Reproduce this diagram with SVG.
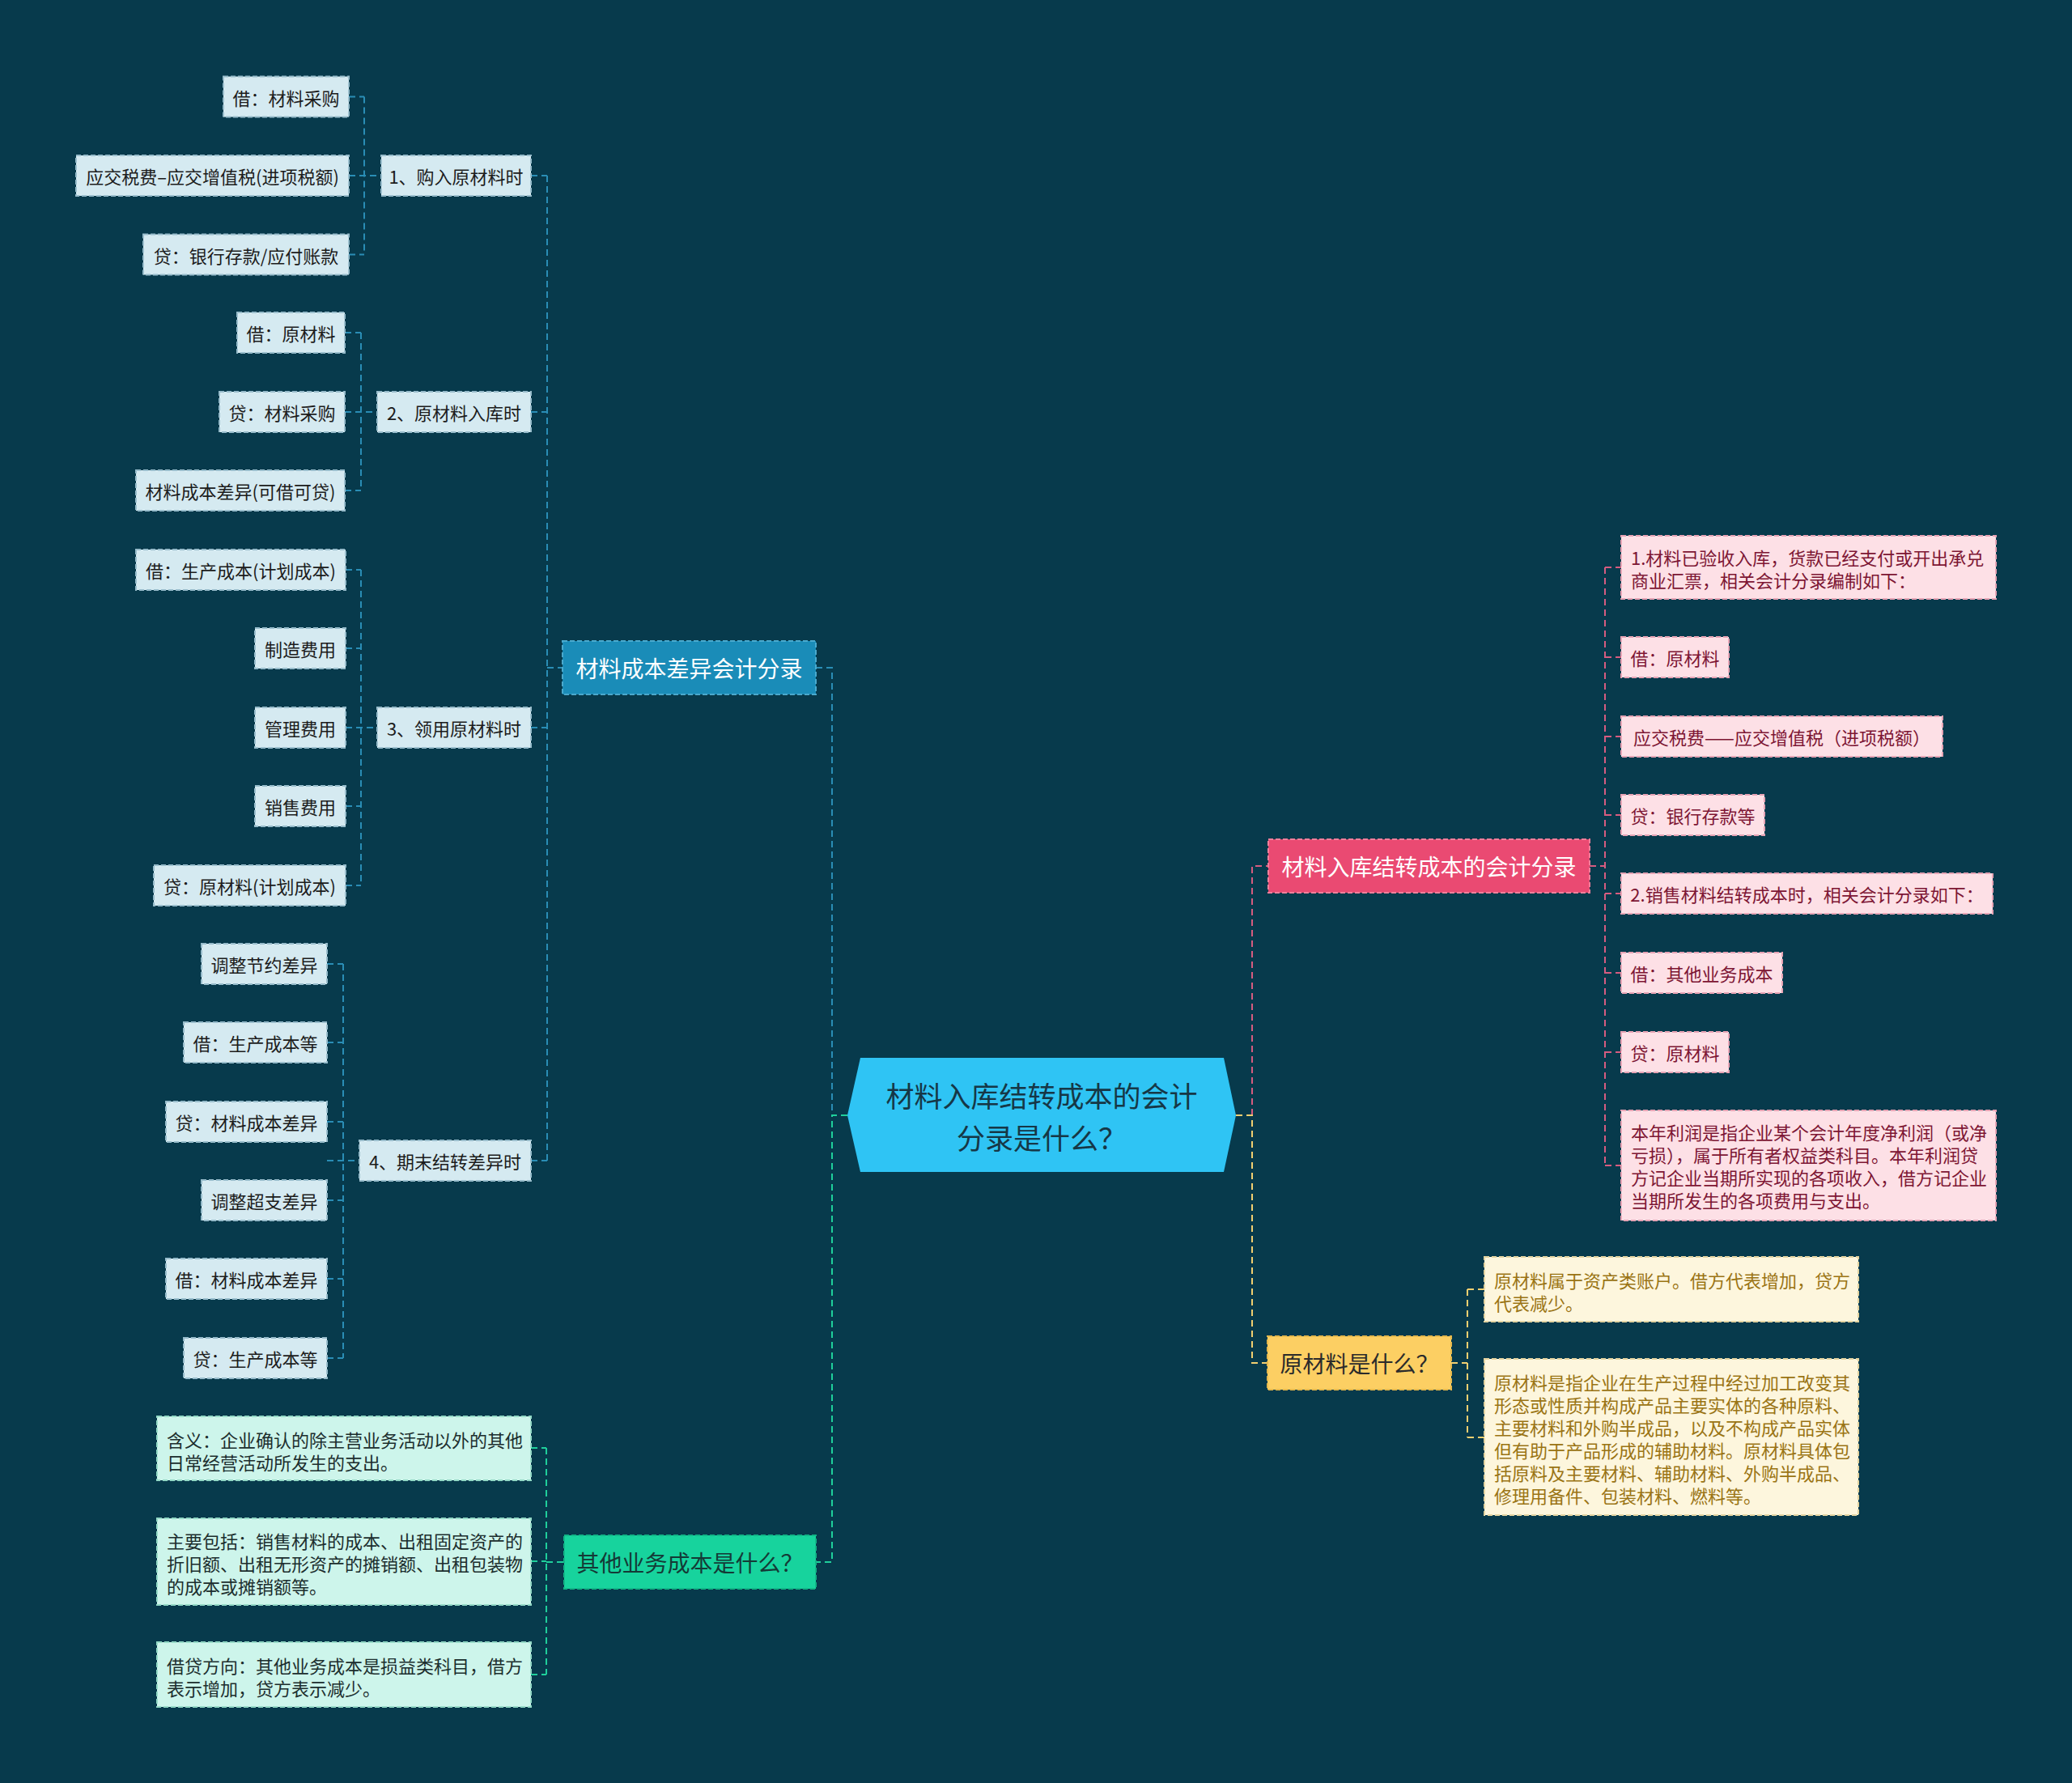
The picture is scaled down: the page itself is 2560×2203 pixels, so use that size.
<svg xmlns="http://www.w3.org/2000/svg" width="2560" height="2203" viewBox="0 0 2560 2203">
<style>
text{font-family:"Noto Sans CJK SC","Noto Sans",sans-serif;dominant-baseline:central}
.bg{fill:#073a4c}
.lb rect{fill:#d5eaf1;stroke:#97bccb;stroke-width:2;stroke-dasharray:6 3}
.lb text{fill:#1c1c1c;font-size:22px}
.lp rect{fill:#fde0e6;stroke:#e6a3b4;stroke-width:2;stroke-dasharray:6 3}
.lp text{fill:#7d1634;font-size:22px}
.ly rect{fill:#fdf6dd;stroke:#e3d3a0;stroke-width:2;stroke-dasharray:6 3}
.ly text{fill:#9a7414;font-size:22px}
.lg rect{fill:#cdf5eb;stroke:#93d9c6;stroke-width:2;stroke-dasharray:6 3}
.lg text{fill:#1c2e2e;font-size:22px}
.n2 text{font-size:28px}
.n2b rect{fill:#1a8cb8;stroke:#4aa9cd;stroke-width:2;stroke-dasharray:6 3}
.n2b text{fill:#ffffff}
.n2p rect{fill:#ea4a72;stroke:#f07f9b;stroke-width:2;stroke-dasharray:6 3}
.n2p text{fill:#ffffff}
.n2y rect{fill:#fccf63;stroke:#e5b84c;stroke-width:2;stroke-dasharray:6 3}
.n2y text{fill:#2b2b2b}
.n2g rect{fill:#17d39d;stroke:#11b586;stroke-width:2;stroke-dasharray:6 3}
.n2g text{fill:#143a36}
.c{fill:none;stroke-width:2;stroke-dasharray:8 5}
.cb{stroke:#2a8db5}
.cp{stroke:#d65c80}
.cy{stroke:#f1cf70}
.cg{stroke:#1fcf9b}
.m text{text-anchor:middle}
</style>
<rect class="bg" x="0" y="0" width="2560" height="2203"/>

<g id="connectors">
  <!-- blue branch -->
  <path class="c cb" d="M431 119.5H450M431 217H471M431 314.5H450M450 119.5V314.5"/>
  <path class="c cb" d="M426 411H446M426 509H466M426 606H446M446 411V606"/>
  <path class="c cb" d="M427 704H446M427 801H446M427 899H466M427 996H446M427 1094H446M446 704V1094"/>
  <path class="c cb" d="M404 1191H424M404 1288H424M404 1386H424M404 1434H444M404 1483H424M404 1580H424M404 1678H424M424 1191V1678"/>
  <path class="c cb" d="M656 217H676M656 509H676M656 899H676M656 1434H676M676 825H695M676 217V1434"/>
  <path class="c cb" d="M1008 825H1028V1378"/>
  <!-- green branch -->
  <path class="c cg" d="M1047 1378H1028V1930H1008"/>
  <path class="c cg" d="M656 1789H675M656 1929H675M656 2069H675M675 1930H697M675 1789V2069"/>
  <!-- pink branch -->
  <path class="c cp" d="M1547 1378V1070H1567"/>
  <path class="c cp" d="M1964 1070H1983M1983 701V1440M1983 701H2003M1983 812H2003M1983 910H2003M1983 1007H2003M1983 1104H2003M1983 1202H2003M1983 1300H2003M1983 1440H2003"/>
  <!-- yellow branch -->
  <path class="c cy" d="M1527 1378H1547V1684H1566"/>
  <path class="c cy" d="M1793 1684H1813M1813 1593V1776M1813 1593H1834M1813 1776H1834"/>
</g>

<g id="center">
  <polygon points="1063,1307 1512,1307 1527,1378 1512,1448 1063,1448 1047,1378" fill="#2fc4f4"/>
  <text x="1287" y="1352" text-anchor="middle" font-size="35" fill="#163746">材料入库结转成本的会计</text>
  <text x="1287" y="1404" text-anchor="middle" font-size="35" fill="#163746">分录是什么？</text>
</g>

<!-- level 2 -->
<g id="n-cost-diff" class="n2 n2b m"><rect x="695" y="792" width="313" height="66"/><text x="851.5" y="825">材料成本差异会计分录</text></g>
<g id="n-other-cost" class="n2 n2g m"><rect x="697" y="1897" width="311" height="66"/><text x="852.5" y="1930">其他业务成本是什么？</text></g>
<g id="n-entry" class="n2 n2p m"><rect x="1567" y="1037" width="397" height="66"/><text x="1765.5" y="1070">材料入库结转成本的会计分录</text></g>
<g id="n-raw" class="n2 n2y m"><rect x="1566" y="1651" width="227" height="66"/><text x="1679.5" y="1684">原材料是什么？</text></g>

<!-- blue leaves -->
<g id="b1" class="lb m"><rect x="276" y="94.5" width="155" height="50"/><text x="353.5" y="119.5">借：材料采购</text></g>
<g id="b2" class="lb m"><rect x="94" y="192" width="337" height="50"/><text x="262.5" y="217">应交税费–应交增值税(进项税额)</text></g>
<g id="b3" class="lb m"><rect x="177" y="289.5" width="254" height="50"/><text x="304" y="314.5">贷：银行存款/应付账款</text></g>
<g id="b4" class="lb m"><rect x="471" y="192" width="185" height="50"/><text x="563.5" y="217">1、购入原材料时</text></g>
<g id="b5" class="lb m"><rect x="293" y="386" width="133" height="50"/><text x="359.5" y="411">借：原材料</text></g>
<g id="b6" class="lb m"><rect x="271" y="484" width="155" height="50"/><text x="348.5" y="509">贷：材料采购</text></g>
<g id="b7" class="lb m"><rect x="168" y="581" width="258" height="50"/><text x="297" y="606">材料成本差异(可借可贷)</text></g>
<g id="b8" class="lb m"><rect x="466" y="484" width="190" height="50"/><text x="561" y="509">2、原材料入库时</text></g>
<g id="b9" class="lb m"><rect x="168" y="679" width="259" height="50"/><text x="297.5" y="704">借：生产成本(计划成本)</text></g>
<g id="b10" class="lb m"><rect x="315" y="776" width="112" height="50"/><text x="371" y="801">制造费用</text></g>
<g id="b11" class="lb m"><rect x="315" y="874" width="112" height="50"/><text x="371" y="899">管理费用</text></g>
<g id="b12" class="lb m"><rect x="315" y="971" width="112" height="50"/><text x="371" y="996">销售费用</text></g>
<g id="b13" class="lb m"><rect x="190" y="1069" width="237" height="50"/><text x="308.5" y="1094">贷：原材料(计划成本)</text></g>
<g id="b14" class="lb m"><rect x="466" y="874" width="190" height="50"/><text x="561" y="899">3、领用原材料时</text></g>
<g id="b15" class="lb m"><rect x="249" y="1166" width="155" height="50"/><text x="326.5" y="1191">调整节约差异</text></g>
<g id="b16" class="lb m"><rect x="227" y="1263" width="177" height="50"/><text x="315.5" y="1288">借：生产成本等</text></g>
<g id="b17" class="lb m"><rect x="205" y="1361" width="199" height="50"/><text x="304.5" y="1386">贷：材料成本差异</text></g>
<g id="b18" class="lb m"><rect x="249" y="1458" width="155" height="50"/><text x="326.5" y="1483">调整超支差异</text></g>
<g id="b19" class="lb m"><rect x="205" y="1555" width="199" height="50"/><text x="304.5" y="1580">借：材料成本差异</text></g>
<g id="b20" class="lb m"><rect x="227" y="1653" width="177" height="50"/><text x="315.5" y="1678">贷：生产成本等</text></g>
<g id="b21" class="lb m"><rect x="444" y="1409" width="212" height="50"/><text x="550" y="1434">4、期末结转差异时</text></g>

<!-- green leaves -->
<g id="g1" class="lg"><rect x="194" y="1750" width="462" height="79"/><text x="206" y="1778">含义：企业确认的除主营业务活动以外的其他</text><text x="206" y="1806">日常经营活动所发生的支出。</text></g>
<g id="g2" class="lg"><rect x="194" y="1876" width="462" height="107"/><text x="206" y="1903">主要包括：销售材料的成本、出租固定资产的</text><text x="206" y="1931">折旧额、出租无形资产的摊销额、出租包装物</text><text x="206" y="1959">的成本或摊销额等。</text></g>
<g id="g3" class="lg"><rect x="194" y="2029" width="462" height="80"/><text x="206" y="2057">借贷方向：其他业务成本是损益类科目，借方</text><text x="206" y="2085">表示增加，贷方表示减少。</text></g>

<!-- pink leaves -->
<g id="p1" class="lp"><rect x="2003" y="662" width="463" height="78"/><text x="2015" y="688">1.材料已验收入库，货款已经支付或开出承兑</text><text x="2015" y="716">商业汇票，相关会计分录编制如下：</text></g>
<g id="p2" class="lp m"><rect x="2003" y="787" width="133" height="50"/><text x="2069.5" y="812">借：原材料</text></g>
<g id="p3" class="lp m"><rect x="2003" y="885" width="397" height="50"/><text x="2201.5" y="910">应交税费——应交增值税（进项税额）</text></g>
<g id="p4" class="lp m"><rect x="2003" y="982" width="177" height="50"/><text x="2091.5" y="1007">贷：银行存款等</text></g>
<g id="p5" class="lp m"><rect x="2003" y="1079" width="459" height="50"/><text x="2232.5" y="1104">2.销售材料结转成本时，相关会计分录如下：</text></g>
<g id="p6" class="lp m"><rect x="2003" y="1177" width="199" height="50"/><text x="2102.5" y="1202">借：其他业务成本</text></g>
<g id="p7" class="lp m"><rect x="2003" y="1275" width="133" height="50"/><text x="2069.5" y="1300">贷：原材料</text></g>
<g id="p8" class="lp"><rect x="2003" y="1372" width="463" height="136"/><text x="2015" y="1398">本年利润是指企业某个会计年度净利润（或净</text><text x="2015" y="1426">亏损），属于所有者权益类科目。本年利润贷</text><text x="2015" y="1454">方记企业当期所实现的各项收入，借方记企业</text><text x="2015" y="1482">当期所发生的各项费用与支出。</text></g>

<!-- yellow leaves -->
<g id="y1" class="ly"><rect x="1834" y="1553" width="462" height="80"/><text x="1846" y="1581">原材料属于资产类账户。借方代表增加，贷方</text><text x="1846" y="1609">代表减少。</text></g>
<g id="y2" class="ly"><rect x="1834" y="1679" width="462" height="193"/><text x="1846" y="1707">原材料是指企业在生产过程中经过加工改变其</text><text x="1846" y="1735">形态或性质并构成产品主要实体的各种原料、</text><text x="1846" y="1763">主要材料和外购半成品，以及不构成产品实体</text><text x="1846" y="1791">但有助于产品形成的辅助材料。原材料具体包</text><text x="1846" y="1819">括原料及主要材料、辅助材料、外购半成品、</text><text x="1846" y="1847">修理用备件、包装材料、燃料等。</text></g>
</svg>
